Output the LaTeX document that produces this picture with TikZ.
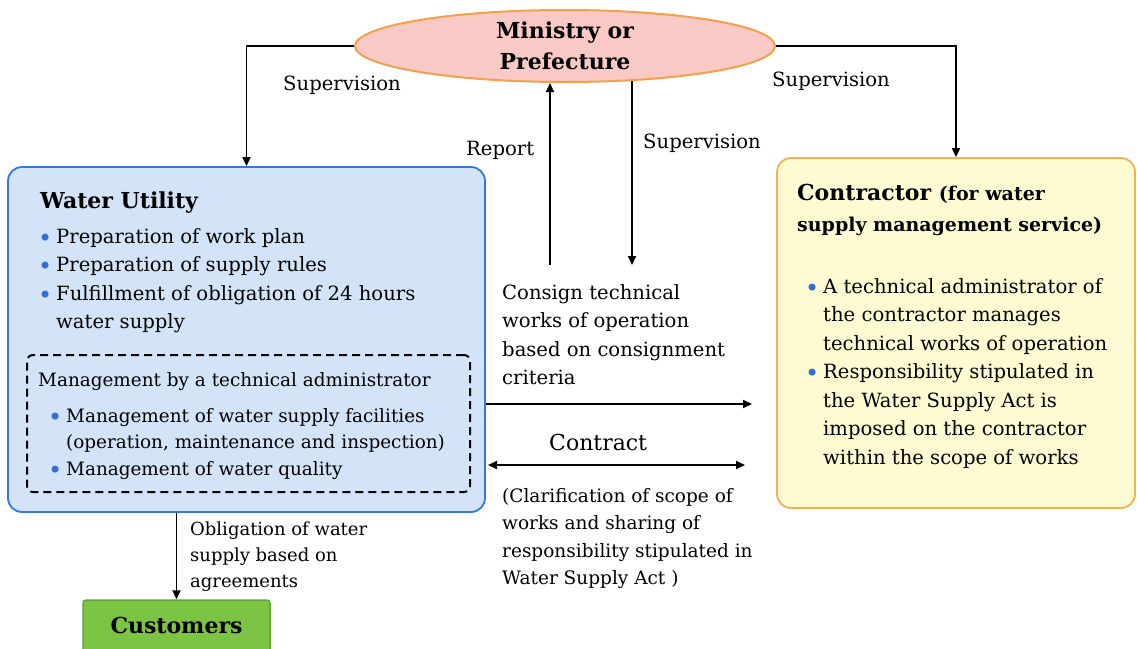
\documentclass[tikz,border=0pt]{standalone}
\usepackage{fontspec}
\setmainfont{DejaVu Serif}
\usetikzlibrary{shapes.geometric,arrows.meta}
\definecolor{wfill}{HTML}{D3E3F8}
\definecolor{wdraw}{HTML}{3478D8}
\definecolor{cfill}{HTML}{FEFBD2}
\definecolor{cdraw}{HTML}{F6B04E}
\definecolor{efill}{HTML}{F9C9C6}
\definecolor{edraw}{HTML}{F2A04A}
\definecolor{gfill}{HTML}{7CC444}
\definecolor{gdraw}{HTML}{5FA834}
\definecolor{bblue}{HTML}{2F6FD6}
\newcommand{\bul}{\makebox[18pt][l]{\textcolor{bblue}{\raisebox{-3pt}{\fontsize{24}{24}\selectfont •}}}}
\newcommand{\ind}{\hspace*{18pt}}
\begin{document}
\begin{tikzpicture}[x=1pt,y=-1pt,
  arr/.style={line width=1.8pt,-{Triangle[length=9pt,width=8pt]}},
  arrtwo/.style={line width=1.8pt,{Triangle[length=9pt,width=8pt]}-{Triangle[length=9pt,width=8pt]}},
  txt/.style={anchor=base west,inner sep=0pt,align=left},
  body/.style={font=\fontsize{19.6}{28.5}\selectfont},
  small/.style={font=\fontsize{18.4}{26.5}\selectfont}]
\useasboundingbox (0,0) rectangle (1137,648);
% boxes
\node[draw=wdraw,fill=wfill,rounded corners=14pt,line width=1.8pt,minimum width=477pt,minimum height=345pt] (wu) at (246.5,339.5) {};
\node[draw=cdraw,fill=cfill,rounded corners=14pt,line width=1.8pt,minimum width=358pt,minimum height=350pt] (co) at (956,333) {};
\node[draw=black,dash pattern=on 8pt off 5pt,line width=2pt,rounded corners=6pt,minimum width=443pt,minimum height=137pt] (tm) at (248.5,423.5) {};
\node[draw=gdraw,fill=gfill,rounded corners=3pt,line width=1.5pt,minimum width=187pt,minimum height=56pt] (cu) at (176.5,628) {};
\node[font=\fontsize{22}{22}\selectfont\bfseries,anchor=base] (cut) at (176.5,633) {Customers};
\node[ellipse,draw=edraw,fill=efill,line width=2pt,minimum width=420pt,minimum height=72pt,inner sep=0pt,align=center,font=\fontsize{22}{31}\selectfont\bfseries] (min) at (565,46) {Ministry or\\Prefecture};
% Water utility text
\node[txt,font=\fontsize{22}{28}\selectfont\bfseries] (wut) at (40,208) {Water Utility};
\node[txt,body] (wul) at (38,328.5) {\bul Preparation of work plan\\\bul Preparation of supply rules\\\bul Fulfillment of obligation of 24 hours\\\ind water supply};
\node[txt,small] (tmt) at (38,386) {Management by a technical administrator};
\node[txt,small] (tml) at (48,475) {\bul Management of water supply facilities\\\ind (operation, maintenance and inspection)\\\bul Management of water quality};
% contractor text
\node[txt,font=\fontsize{22}{31}\selectfont\bfseries] (cot) at (797,231) {Contractor {\fontsize{19}{31}\selectfont(for water}\\{\fontsize{19}{31}\selectfont supply management service)}};
\node[txt,body] (col) at (805,464) {\bul A technical administrator of\\\ind the contractor manages\\\ind technical works of operation\\\bul Responsibility stipulated in\\\ind the Water Supply Act is\\\ind imposed on the contractor\\\ind within the scope of works};
% connectors
\draw[arr] (min.west) -| (wu.north);
\draw[arr] (min.east) -| (co.north);
\coordinate (rep) at (550,265);
\coordinate (sv) at (632,265);
\draw[arr] (rep) -- (rep |- min.south);
\draw[arr] ([yshift=2pt]sv |- min.south) -- (sv);
\coordinate (cs) at (752,404);
\draw[arr] (cs -| wu.east) -- (cs);
\coordinate (ca) at (488,465);
\coordinate (cb) at (745,465);
\draw[arrtwo] (ca) -- (cb);
\draw[arr] (wu.south -| cu.north) -- (cu.north);
% labels
\node[txt,body] (l1) at (283,90) {Supervision};
\node[txt,body] (l2) at (772,86) {Supervision};
\node[txt,body] (l3) at (466,155) {Report};
\node[txt,body] (l4) at (643,148) {Supervision};
\node[txt,body] (l5) at (502,384.5) {Consign technical\\works of operation\\based on consignment\\criteria};
\node[txt,font=\fontsize{22}{22}\selectfont] (l6) at (549,450) {Contract};
\node[txt,font=\fontsize{18.5}{27.5}\selectfont] (l7) at (502,584.5) {(Clarification of scope of\\works and sharing of\\responsibility stipulated in\\Water Supply Act )};
\node[txt,font=\fontsize{18}{26}\selectfont] (l8) at (190,587) {Obligation of water\\supply based on\\agreements};
\end{tikzpicture}
\end{document}
